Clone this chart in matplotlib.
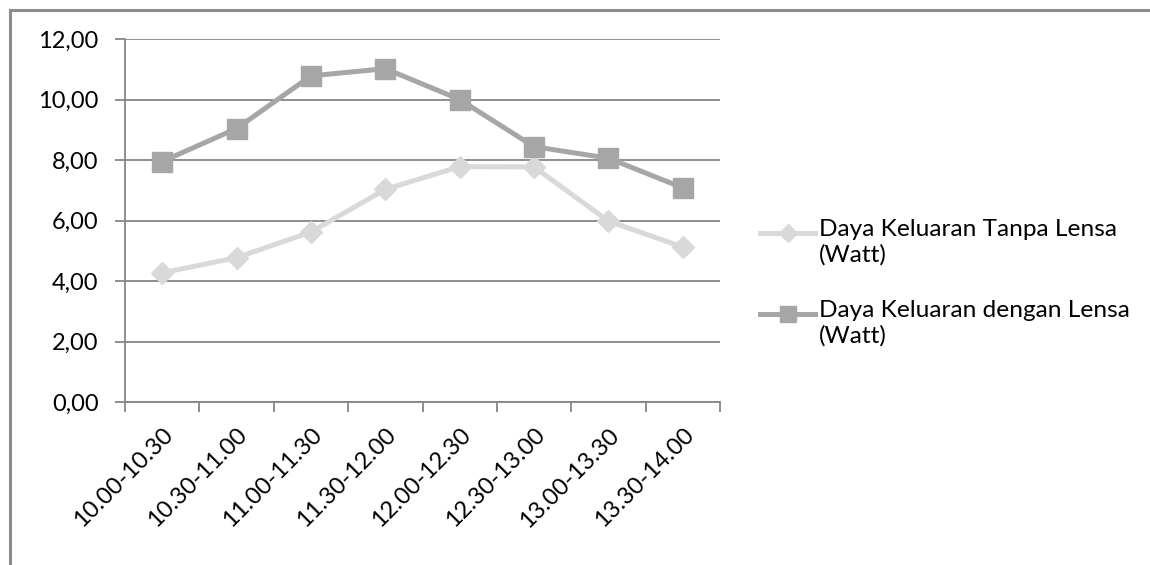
import matplotlib
matplotlib.use("Agg")
import matplotlib.pyplot as plt
from matplotlib.lines import Line2D
from matplotlib.ticker import FuncFormatter, MultipleLocator

categories = ["10.00-10.30", "10.30-11.00", "11.00-11.30", "11.30-12.00",
              "12.00-12.30", "12.30-13.00", "13.00-13.30", "13.30-14.00"]
tanpa_lensa = [4.27, 4.77, 5.62, 7.03, 7.78, 7.77, 5.98, 5.12]
dengan_lensa = [7.95, 9.04, 10.78, 11.02, 10.00, 8.44, 8.06, 7.08]
series_names = ["Daya Keluaran Tanpa Lensa\n(Watt)",
                "Daya Keluaran dengan Lensa\n(Watt)"]

plt.rcParams['font.family'] = ['Lato', 'DejaVu Sans']
W, H = 1150, 565
FS = 17
fig = plt.figure(figsize=(W / 100, H / 100), dpi=100)

def px(x, y):
    """pixel position (from top-left) -> figure fraction"""
    return x / W, 1 - y / H

border_c = "#8C8C8C"
# chart frame (top and left edges)
fig.add_artist(Line2D([px(10, 0)[0], 1], [px(0, 10)[1]] * 2, color=border_c,
                      linewidth=2.2, transform=fig.transFigure))
fig.add_artist(Line2D([px(10, 0)[0]] * 2, [px(0, 10)[1], 0], color=border_c,
                      linewidth=2.2, transform=fig.transFigure))

left, right, top, bottom = 125, 720, 39, 402
ax = fig.add_axes([left / W, 1 - bottom / H, (right - left) / W, (bottom - top) / H])

grid_c = "#868686"
styles = [
    dict(color="#D9D9D9", linewidth=3.6, marker="D", markersize=11,
         markeredgecolor="#D9D9D9"),
    dict(color="#A6A6A6", linewidth=3.6, marker="s", markersize=14,
         markeredgecolor="#A6A6A6"),
]
x = list(range(len(categories)))
ax.plot(x, tanpa_lensa, zorder=3, **styles[0])
ax.plot(x, dengan_lensa, zorder=4, **styles[1])

ax.set_xlim(-0.5, len(categories) - 0.5)
ax.set_ylim(0, 12)
ax.yaxis.set_major_locator(MultipleLocator(2))
ax.yaxis.set_major_formatter(FuncFormatter(lambda v, p: f"{v:.2f}".replace(".", ",")))
ax.grid(axis="y", color=grid_c, linewidth=1.3)
ax.set_axisbelow(True)
for s in ["top", "right"]:
    ax.spines[s].set_visible(False)
for s in ["left", "bottom"]:
    ax.spines[s].set_color(grid_c)
    ax.spines[s].set_linewidth(1.3)

ax.set_xticks([i - 0.5 for i in range(len(categories) + 1)], minor=False)
ax.set_xticklabels([])
ax.set_xticks(x, minor=True)
ax.set_xticklabels(categories, minor=True, rotation=45, ha="right",
                   rotation_mode="anchor", fontsize=FS)
ax.tick_params(axis="x", which="major", length=7, color=grid_c, width=1.3, direction="out")
ax.tick_params(axis="x", which="minor", length=0, pad=16)
ax.tick_params(axis="y", length=7, color=grid_c, width=1.3, labelsize=FS, pad=12)

# legend drawn beside the plot area, handle aligned with the first text line
for i, (name, st) in enumerate(zip(series_names, styles)):
    y = 233 + i * 81
    x0, yf = px(760, y)
    x1, _ = px(815, y)
    xm, _ = px(788, y)
    fig.add_artist(Line2D([x0, x1], [yf, yf], color=st["color"],
                          linewidth=st["linewidth"], transform=fig.transFigure))
    fig.add_artist(Line2D([xm], [yf], linestyle="none", marker=st["marker"],
                          markersize=st["markersize"] * 0.8, color=st["color"],
                          markeredgecolor=st["markeredgecolor"],
                          transform=fig.transFigure))
    tx, ty = px(819, y - 14)
    fig.text(tx, ty, name, fontsize=17.6, va="top", ha="left", linespacing=1.22)

fig.savefig("out.png", dpi=100)
